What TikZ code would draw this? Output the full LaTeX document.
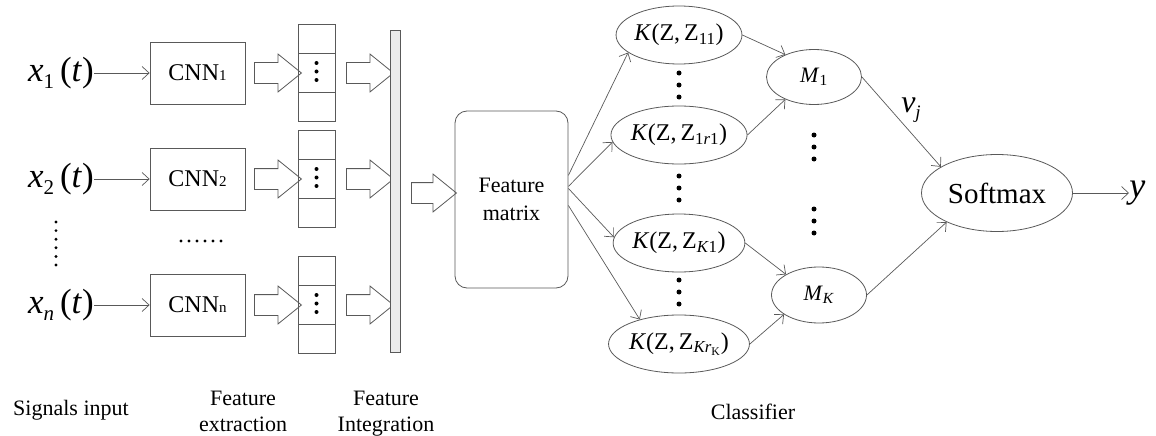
\documentclass[tikz,border=0pt]{standalone}
\usepackage{fontspec}
\setmainfont{Liberation Serif}
\usetikzlibrary{shapes.geometric,shapes.arrows,arrows.meta}
\newcommand{\fs}[1]{\fontsize{#1}{#1}\selectfont}
\begin{document}
\begin{tikzpicture}
  [x=1pt,y=-1pt,line width=0.8pt,every node/.style={inner sep=0pt,font=\fs{22}}]
  \tikzstyle{conn} = [draw=black!65,line width=0.7pt,-{Straight Barb[length=7pt,width=13pt]}]
  \tikzstyle{cnnbox} = [draw=black!65,minimum width=95pt,minimum height=62pt,font=\fs{24}]
  \tikzstyle{hollow} = [draw=black!65,single arrow,minimum height=47pt,inner ysep=10pt,
                        single arrow head extend=8.5pt,single arrow tip angle=78]
  \tikzstyle{cell} = [draw=black!65,minimum width=37pt]
  \tikzstyle{kern} = [draw=black!65,ellipse,minimum width=124pt,minimum height=58pt,font=\fs{24}]
  \useasboundingbox (0,0) rectangle (1156,436);

  % signals, CNNs and feature vectors
  \foreach \i/\y/\s in {1/73/1,2/179/2,n/305/\textit{n}} {
    \node (in\i) at (61,\y) {\fs{35}\textit{x}\raisebox{-7pt}{\fs{21}\s}\,(\textit{t})};
    \node[cnnbox] (cnn\i) at (197.5,\y) {CNN{\fs{15}\i}};
    \node[hollow] (ha\i) at (271.5,\y) {};
    \node[cell,minimum height=29pt] (va\i) at (316.5,\y-34) {};
    \node[cell,minimum height=39pt] (vb\i) at (316.5,\y) {};
    \node[cell,minimum height=29pt] (vc\i) at (316.5,\y+34) {};
    \node[hollow] (hb\i) at (363.5,\y) {};
    \foreach \d in {-10,-1.5,7} \fill (316.5,\y+\d) circle (2pt);
    \draw[conn] (in\i) -- (cnn\i);
  }
  \foreach \k in {0,...,5} {
    \fill (56,222+8.6*\k) circle (1.6pt);
    \fill (181+8*\k,241) circle (1.6pt);
  }

  % integration and feature matrix
  \node[draw=black!65,fill=black!8,minimum width=10pt,minimum height=322pt] (bar) at (395,191) {};
  \node[hollow,minimum height=45pt] (hc) at (427.5,193) {};
  \node[draw=black!65,rounded corners=12pt,minimum width=113pt,minimum height=177pt,
        align=center,font=\fontsize{22}{28}\selectfont] (fm) at (511.5,199.5) {Feature\\matrix};

  % classifier
  \node[kern] (k1) at (679,35)  {\textit{K}(Z,\,Z\textsubscript{11})};
  \node[kern] (k2) at (679,135) {\textit{K}(Z,\,Z\textsubscript{1\textit{r}1})};
  \node[kern] (k3) at (679,243) {\textit{K}(Z,\,Z\textsubscript{\textit{K}1})};
  \node[kern] (k4) at (679,344) {\textit{K}(Z,\,Z\textsubscript{\textit{Kr}\textsubscript{K}})};
  \node[draw=black!65,ellipse,minimum width=95pt,minimum height=55pt] (m1) at (814,77) {\textit{M}\textsubscript{1}};
  \node[draw=black!65,ellipse,minimum width=95pt,minimum height=56pt] (mk) at (819,295) {\textit{M}\textsubscript{\textit{K}}};
  \node[draw=black!65,ellipse,minimum width=151pt,minimum height=77pt,font=\fs{29}] (sm) at (997,193) {Softmax};
  \node[anchor=west,font=\fs{36}] (y) at (1129,193) {\textit{y}};
  \node[font=\fs{32}] (vj) at (911,110) {\textit{v}\raisebox{-6pt}{\fs{19}\textit{j}}};
  \foreach \y in {73,176,280} \foreach \d in {0,12,24} \fill (679,\y+\d) circle (2.5pt);
  \foreach \y in {135,209} \foreach \d in {0,12,24} \fill (814,\y+\d) circle (2.5pt);

  \foreach \a/\b in {fm.23/k1.199,fm.13/k2.186,fm.11/k3.175,fm.-6/k4.148,
                     k1.east/m1.142,k2.east/m1.218,k3.east/mk.148,k4.east/mk.209,
                     m1.east/sm.155,mk.east/sm.210,sm/y}
    \draw[conn] (\a) -- (\b);

  % stage names
  \node[anchor=base] (l1) at (71,415) {Signals input};
  \node[anchor=north,align=center,font=\fontsize{22}{26}\selectfont] (l2) at (243,391) {Feature\\extraction};
  \node[anchor=north,align=center,font=\fontsize{22}{26}\selectfont] (l3) at (386,391) {Feature\\Integration};
  \node[anchor=base] (l4) at (753,419) {Classifier};
\end{tikzpicture}
\end{document}
